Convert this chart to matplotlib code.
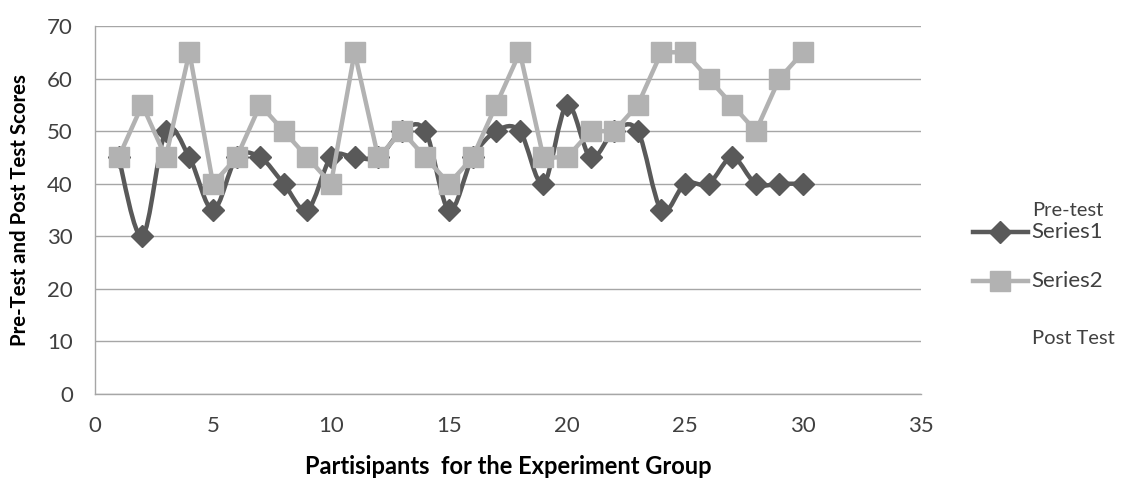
import numpy as np
import matplotlib
matplotlib.use("Agg")
import matplotlib.pyplot as plt
from matplotlib.path import Path
from matplotlib.patches import PathPatch
from matplotlib.lines import Line2D

participants = list(range(1, 31))
pre_test = [45, 30, 50, 45, 35, 45, 45, 40, 35, 45, 45, 45, 50, 50, 35,
            45, 50, 50, 40, 55, 45, 50, 50, 35, 40, 40, 45, 40, 40, 40]
post_test = [45, 55, 45, 65, 40, 45, 55, 50, 45, 40, 65, 45, 50, 45, 40,
             45, 55, 65, 45, 45, 50, 50, 55, 65, 65, 60, 55, 50, 60, 65]
x_ticks = [0, 5, 10, 15, 20, 25, 30, 35]
y_ticks = [0, 10, 20, 30, 40, 50, 60, 70]

plt.rcParams['font.family'] = ['Lato', 'DejaVu Sans']

DARK = '#595959'
LIGHT = '#b2b2b2'
TXT = '#404040'

W, H = 1121, 480
fig = plt.figure(figsize=(W / 100, H / 100), dpi=100)
ax = fig.add_axes([95 / W, 1 - 394 / H, (921 - 95) / W, (394 - 26) / H])
ax.set_xlim(0, 35)
ax.set_ylim(0, 70)
ax.set_xticks(x_ticks)
ax.set_yticks(y_ticks)
ax.tick_params(axis='both', length=0, labelsize=16, colors=TXT)
ax.tick_params(axis='y', pad=16)
ax.tick_params(axis='x', pad=16)
ax.grid(axis='y', color='#a6a6a6', linewidth=1.0)
ax.set_axisbelow(True)
for s in ['top', 'right']:
    ax.spines[s].set_visible(False)
for s in ['left', 'bottom']:
    ax.spines[s].set_color('#a6a6a6')
    ax.spines[s].set_linewidth(1.0)


def smooth_path(xs, ys):
    pts = np.column_stack([xs, ys]).astype(float)
    n = len(pts)
    verts = [pts[0]]
    codes = [Path.MOVETO]
    for i in range(n - 1):
        p0 = pts[i - 1] if i > 0 else pts[i]
        p1 = pts[i]
        p2 = pts[i + 1]
        p3 = pts[i + 2] if i + 2 < n else pts[i + 1]
        c1 = p1 + (p2 - p0) / 6.0
        c2 = p2 - (p3 - p1) / 6.0
        verts += [c1, c2, p2]
        codes += [Path.CURVE4] * 3
    return Path(verts, codes)


patch = PathPatch(smooth_path(participants, pre_test), facecolor='none',
                  edgecolor=DARK, linewidth=3.2, capstyle='round',
                  joinstyle='round', zorder=2)
ax.add_patch(patch)
ax.plot(participants, pre_test, linestyle='none', marker='D', markersize=11,
        color=DARK, zorder=3)
ax.plot(participants, post_test, color=LIGHT, linewidth=3.2, marker='s',
        markersize=14, zorder=4, solid_joinstyle='round')

fig.text(20 / W, 1 - 210 / H, 'Pre-Test and Post Test Scores', rotation=90,
         fontsize=14.7, fontweight='bold', color='#000000',
         ha='center', va='center')
fig.text(508 / W, 1 - 467 / H, 'Partisipants  for the Experiment Group',
         fontsize=17, fontweight='bold', color='#000000',
         ha='center', va='center')

# legend (manual placement)
for y, col, mk, ms, lab in [(232, DARK, 'D', 11, 'Series1'),
                            (281, LIGHT, 's', 14, 'Series2')]:
    fy = 1 - y / H
    fig.add_artist(Line2D([973 / W, 1028 / W], [fy, fy], color=col,
                          linewidth=3.2, transform=fig.transFigure))
    fig.add_artist(Line2D([1000 / W], [fy], color=col, marker=mk,
                          markersize=ms, linestyle='none',
                          transform=fig.transFigure))
    fig.text(1031 / W, fy, lab, fontsize=16, color=TXT, ha='left',
             va='center')
fig.text(1032 / W, 1 - 210 / H, 'Pre-test', fontsize=14.5, color=TXT,
         ha='left', va='center')
fig.text(1032 / W, 1 - 338 / H, 'Post Test', fontsize=14.5, color=TXT,
         ha='left', va='center')

fig.savefig('out.png', dpi=100)
